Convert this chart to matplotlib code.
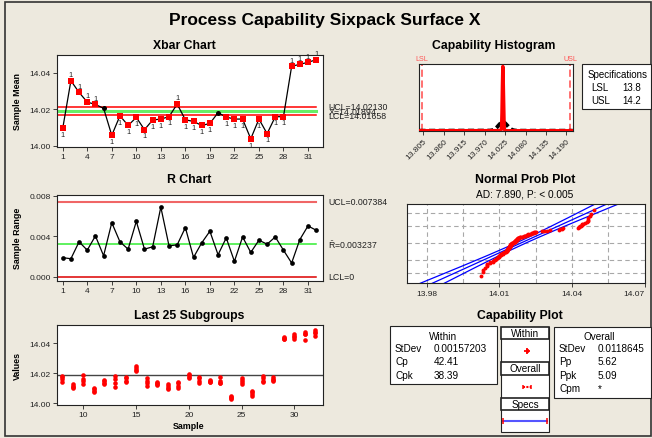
import numpy as np
import matplotlib
matplotlib.use('Agg')
import matplotlib.pyplot as plt
from matplotlib.patches import Rectangle
from matplotlib.transforms import blended_transform_factory
from statistics import NormalDist

W, H = 652, 439
plt.rcParams['font.family'] = ['Liberation Sans', 'DejaVu Sans']
plt.rcParams['mathtext.default'] = 'regular'

# ---------------- data ----------------
samples = list(range(1, 33))
xbar = [14.0095, 14.0356, 14.0292, 14.0239, 14.0226, 14.0205, 14.0057, 14.0164,
        14.0111, 14.0155, 14.0088, 14.0141, 14.0146, 14.0159, 14.0228, 14.0142,
        14.0133, 14.0111, 14.0122, 14.0181, 14.0157, 14.0146, 14.0146, 14.0038,
        14.0146, 14.0066, 14.0159, 14.0159, 14.0435, 14.0446, 14.0457, 14.0471]
ranges = [0.00189, 0.00179, 0.00345, 0.00263, 0.00403, 0.00208, 0.00533, 0.00345,
          0.00273, 0.00546, 0.00273, 0.00296, 0.00686, 0.00306, 0.00315, 0.00485,
          0.00192, 0.00335, 0.00449, 0.00218, 0.00384, 0.00153, 0.00393, 0.00241,
          0.00361, 0.00322, 0.00393, 0.00263, 0.00137, 0.00367, 0.00501, 0.00459]
subgroup_values = [
    [14.0106, 14.0098, 14.0090, 14.0087], [14.0365, 14.0358, 14.0352, 14.0347],
    [14.0310, 14.0297, 14.0286, 14.0276], [14.0252, 14.0243, 14.0235, 14.0226],
    [14.0248, 14.0230, 14.0218, 14.0208], [14.0216, 14.0208, 14.0201, 14.0195],
    [14.0085, 14.0062, 14.0050, 14.0032], [14.0178, 14.0172, 14.0163, 14.0143],
    [14.0125, 14.0115, 14.0105, 14.0098], [14.0185, 14.0160, 14.0145, 14.0130],
    [14.0102, 14.0092, 14.0083, 14.0075], [14.0156, 14.0148, 14.0135, 14.0126],
    [14.0178, 14.0160, 14.0137, 14.0109], [14.0175, 14.0165, 14.0150, 14.0144],
    [14.0245, 14.0235, 14.0220, 14.0214], [14.0165, 14.0150, 14.0135, 14.0117],
    [14.0142, 14.0137, 14.0130, 14.0123], [14.0130, 14.0115, 14.0104, 14.0096],
    [14.0143, 14.0132, 14.0115, 14.0098], [14.0192, 14.0185, 14.0177, 14.0170],
    [14.0175, 14.0165, 14.0150, 14.0137], [14.0153, 14.0150, 14.0143, 14.0138],
    [14.0172, 14.0145, 14.0135, 14.0133], [14.0050, 14.0042, 14.0033, 14.0026],
    [14.0165, 14.0152, 14.0138, 14.0129], [14.0080, 14.0075, 14.0060, 14.0048],
    [14.0180, 14.0168, 14.0147, 14.0141], [14.0172, 14.0163, 14.0155, 14.0146],
    [14.0442, 14.0438, 14.0432, 14.0428], [14.0465, 14.0452, 14.0440, 14.0428],
    [14.0475, 14.0465, 14.0463, 14.0425], [14.0492, 14.0478, 14.0468, 14.0446],
]
UCL_X, CL_X, LCL_X = 14.02130, 14.01894, 14.01658
UCL_R, CL_R, LCL_R = 0.007384, 0.003237, 0.0
LSL, USL = 13.8, 14.2
sd_within, sd_overall = 0.00157203, 0.0118645
hist_ticks = [13.805, 13.860, 13.915, 13.970, 14.025, 14.080, 14.135, 14.190]
prob_ticks = [13.98, 14.01, 14.04, 14.07]
prob_grid_pct = [0.01, 0.10, 0.50, 0.90, 0.99]
within_rows = [('StDev', '0.00157203'), ('Cp', '42.41'), ('Cpk', '38.39')]
overall_rows = [('StDev', '0.0118645'), ('Pp', '5.62'), ('Ppk', '5.09'), ('Cpm', '*')]
spec_rows = [('LSL', '13.8'), ('USL', '14.2')]

BG = '#EDE9DE'
fig = plt.figure(figsize=(W / 100, H / 100), dpi=100, facecolor=BG)

def ax_px(l, t, r, b, **kw):
    return fig.add_axes([l / W, 1 - b / H, (r - l) / W, (b - t) / H], **kw)

def txt(x, y, s, **kw):
    kw.setdefault('va', 'center')
    return fig.text(x / W, 1 - y / H, s, **kw)

# overlay for boxes / frame
ov = ax_px(0, 0, W, H)
ov.set_xlim(0, W); ov.set_ylim(H, 0); ov.axis('off')
ov.add_patch(Rectangle((4.5, 3), 646, 434, fill=False, ec='#333333', lw=1.2))

def style(ax, fs=6):
    ax.tick_params(labelsize=fs, length=3, width=0.6, pad=1.5, colors='#222222')
    for s in ax.spines.values():
        s.set_linewidth(0.8)
        s.set_color('#222222')

# ---------------- Xbar chart ----------------
ax1 = ax_px(57, 56, 322.7, 148)
style(ax1)
ax1.set_xlim(0.3, 32.8)
ax1.set_ylim(13.9993, 14.0497)
ax1.plot([0.3, 32], [UCL_X] * 2, color='#FF0000', lw=1.1, zorder=1)
ax1.plot([0.3, 32], [LCL_X] * 2, color='#FF0000', lw=1.1, zorder=1)
ax1.plot([0.3, 32], [CL_X] * 2, color='#66EE66', lw=2.2, zorder=1)
ax1.plot(samples, xbar, color='black', lw=0.9, zorder=2)
xb = np.array(xbar); sm = np.array(samples)
out = (xb > UCL_X) | (xb < LCL_X)
ax1.scatter(sm[~out], xb[~out], marker='o', s=13, color='black', zorder=3, lw=0)
ax1.scatter(sm[out], xb[out], marker='s', s=13, color='#FF0000', zorder=3, lw=0)
for x, y in zip(sm[out], xb[out]):
    off = 4.5 if y > UCL_X else -4.5
    ax1.annotate('1', (x, y), xytext=(0, off), textcoords='offset points',
                 ha='center', va='center', fontsize=5.3, color='#222222')
ax1.set_xticks(samples[::3])
ax1.set_yticks([14.00, 14.02, 14.04])
ax1.set_yticklabels(['%.2f' % v for v in [14.00, 14.02, 14.04]])
tr1 = blended_transform_factory(ax1.transAxes, ax1.transData)
ax1.text(1.02, UCL_X, 'UCL=14.02130', transform=tr1, fontsize=6.3, va='center', color='#222222')
ax1.text(1.02, CL_X, r'$\bar{X}$=14.01894', transform=tr1, fontsize=6.3, va='center', color='#222222')
ax1.text(1.02, LCL_X, 'LCL=14.01658', transform=tr1, fontsize=6.3, va='center', color='#222222')

# ---------------- R chart ----------------
ax2 = ax_px(57, 195.5, 322.7, 282)
style(ax2)
ax2.set_xlim(0.3, 32.8)
ax2.set_ylim(-0.0004, 0.0081)
ax2.plot([0.3, 32], [UCL_R] * 2, color='#F06666', lw=1.5, zorder=1)
ax2.plot([0.3, 32], [CL_R] * 2, color='#33EE33', lw=1.1, zorder=1)
ax2.plot([0.3, 32], [LCL_R] * 2, color='#DD0000', lw=1.1, zorder=1)
ax2.plot(samples, ranges, color='black', lw=0.9, marker='o', ms=3.4, mec='none', zorder=2)
ax2.set_xticks(samples[::3])
ax2.set_yticks([0.0, 0.004, 0.008])
ax2.set_yticklabels(['0.000', '0.004', '0.008'])
tr2 = blended_transform_factory(ax2.transAxes, ax2.transData)
ax2.text(1.02, UCL_R, 'UCL=0.007384', transform=tr2, fontsize=6.3, va='center', color='#222222')
ax2.text(1.02, CL_R, r'$\bar{R}$=0.003237', transform=tr2, fontsize=6.3, va='center', color='#222222')
ax2.text(1.02, LCL_R, 'LCL=0', transform=tr2, fontsize=6.3, va='center', color='#222222')

# ---------------- Last 25 subgroups ----------------
ax3 = ax_px(57, 326, 322.7, 406)
style(ax3)
ax3.set_xlim(7.5, 32.7)
ax3.set_ylim(13.9987, 14.0523)
ax3.axhline(CL_X, color='#444444', lw=1.0, zorder=1)
for s, vals in zip(samples[7:], subgroup_values[7:]):
    ax3.plot([s] * len(vals), vals, 'o', color='#FF0000', ms=3.3, mec='none', zorder=2)
ax3.set_xticks([10, 15, 20, 25, 30])
ax3.set_yticks([14.00, 14.02, 14.04])
ax3.set_yticklabels(['%.2f' % v for v in [14.00, 14.02, 14.04]])

# ---------------- Capability histogram ----------------
ax4 = ax_px(419.3, 65.3, 572.7, 131.7)
style(ax4)
ax4.set_xlim(13.7937, 14.2072)
ax4.set_ylim(0, 262)
ax4.set_yticks([])
xs = np.linspace(13.7937, 14.2072, 6000)
nd_w = NormalDist(CL_X, sd_within)
nd_o = NormalDist(CL_X, sd_overall)
ax4.plot(xs, [nd_o.pdf(v) for v in xs], color='black', lw=2.8, ls=(0, (1.6, 0.9)), zorder=2)
ax4.plot(xs, [nd_w.pdf(v) for v in xs], color='#FF0000', lw=2.4, zorder=3)
for v, lab in [(LSL, 'LSL'), (USL, 'USL')]:
    ax4.axvline(v, color='#FF6666', lw=1.3, ls=(0, (4, 2)), zorder=1)
    ax4.text(v, 1.09, lab, transform=blended_transform_factory(ax4.transData, ax4.transAxes),
             ha='center', va='center', fontsize=5.2, color='#FF5555')
ax4.set_xticks(hist_ticks)
ax4.set_xticklabels(['%.3f' % v for v in hist_ticks], rotation=45, ha='right',
                    rotation_mode='anchor')

# ---------------- Normal prob plot ----------------
ax5 = ax_px(407.3, 205, 645.3, 284.3)
style(ax5)
allv = np.sort(np.concatenate([np.array(v) for v in subgroup_values]))
n = len(allv)
std = NormalDist()
zq = np.array([std.inv_cdf((i - 0.3) / (n + 0.4)) for i in range(1, n + 1)])
ax5.set_xlim(13.972, 14.0703)
ax5.set_ylim(-3.09, 2.99)
for k in range(7):
    ax5.axvline(13.98 + 0.015 * k, color='#A8A8A8', lw=0.8, ls=(0, (4, 3)), zorder=0)
for p in prob_grid_pct:
    ax5.axhline(std.inv_cdf(p), color='#A8A8A8', lw=0.8, ls=(0, (4, 3)), zorder=0)
zz = np.linspace(-3.3, 3.2, 200)
xfit = CL_X + zz * sd_overall
half = 1.96 * sd_overall * np.sqrt(1 / n + zz ** 2 / (2 * n))
for xx in (xfit, xfit - half, xfit + half):
    ax5.plot(xx, zz, color='#0000FF', lw=0.9, zorder=2)
ax5.plot(allv, zq, 'o', color='#FF0000', ms=2.8, mec='none', zorder=3)
ax5.set_yticks([])
ax5.set_xticks(prob_ticks)
ax5.set_xticklabels(['%.2f' % v for v in prob_ticks])
ax5.get_xticklabels()[-1].set_ha('right')

# ---------------- Titles and labels ----------------
txt(325, 20, 'Process Capability Sixpack Surface X', fontsize=12.5, weight='bold', ha='center')
txt(184, 45.7, 'Xbar Chart', fontsize=8.8, weight='bold', ha='center')
txt(189, 180, 'R Chart', fontsize=8.8, weight='bold', ha='center')
txt(189, 316, 'Last 25 Subgroups', fontsize=8.8, weight='bold', ha='center')
txt(494, 46, 'Capability Histogram', fontsize=8.8, weight='bold', ha='center')
txt(525, 180, 'Normal Prob Plot', fontsize=8.8, weight='bold', ha='center')
txt(525, 194.5, 'AD: 7.890, P: < 0.005', fontsize=7.3, ha='center')
txt(520, 316, 'Capability Plot', fontsize=8.8, weight='bold', ha='center')
txt(17, 102, 'Sample Mean', fontsize=6.4, weight='bold', ha='center', rotation=90)
txt(17, 238, 'Sample Range', fontsize=6.4, weight='bold', ha='center', rotation=90)
txt(17, 366, 'Values', fontsize=6.4, weight='bold', ha='center', rotation=90)
txt(189, 427, 'Sample', fontsize=6.4, weight='bold', ha='center')

# ---------------- Specifications box ----------------
ov.add_patch(Rectangle((581.7, 65), 69.5, 45, fc='white', ec='#222222', lw=0.8))
txt(587.3, 74.7, 'Specifications', fontsize=7)
for i, (a, b) in enumerate(spec_rows):
    txt(591.7, 87.7 + 13 * i, a, fontsize=7)
    txt(622.7, 87.7 + 13 * i, b, fontsize=7)

# ---------------- Capability plot tables ----------------
ov.add_patch(Rectangle((390, 326.7), 106.7, 58.3, fc='white', ec='#222222', lw=0.8))
txt(443, 336.7, 'Within', fontsize=7.2, ha='center')
for i, (a, b) in enumerate(within_rows):
    txt(395, 349 + 13.3 * i, a, fontsize=7.2)
    txt(434, 349 + 13.3 * i, b, fontsize=7.2)

ov.add_patch(Rectangle((554.3, 327.7), 97, 71.6, fc='white', ec='#222222', lw=0.8))
txt(599, 336.7, 'Overall', fontsize=7.2, ha='center')
for i, (a, b) in enumerate(overall_rows):
    txt(559, 349 + 13.3 * i, a, fontsize=7.2)
    txt(598, 349 + 13.3 * i, b, fontsize=7.2)

ov.add_patch(Rectangle((500.7, 328.3), 48.6, 105, fc='white', ec='#222222', lw=0.8))
for (top, h, lab) in [(328.3, 11.7, 'Within'), (363.3, 12.4, 'Overall'), (399.3, 11.7, 'Specs')]:
    ov.add_patch(Rectangle((500.7, top), 48.6, h, fc='white', ec='#222222', lw=1.2))
    txt(525, top + h / 2, lab, fontsize=7.2, ha='center')

intervals = [
    ((500.7, 340, 549.3, 363.3), CL_X - 3 * sd_within, CL_X + 3 * sd_within, '#FF0000', '-', 3.5),
    ((500.7, 375.7, 549.3, 399.3), CL_X - 3 * sd_overall, CL_X + 3 * sd_overall, '#FF0000', (0, (1, 0.6)), 3.5),
    ((500.7, 411, 549.3, 433.3), LSL, USL, '#5555FF', '-', 4.5),
]
for box, lo, hi, col, ls, ms in intervals:
    axm = ax_px(*box)
    axm.set_xlim(13.779, 14.221); axm.set_ylim(0, 1); axm.axis('off')
    axm.plot([lo, hi], [0.5, 0.5], color=col, lw=1.5, ls=ls)
    axm.plot([lo, hi], [0.5, 0.5], ls='none', marker='|', ms=ms, mew=1.1, color='#FF0000')
    if hi - lo < 0.02:
        axm.plot([(lo + hi) / 2], [0.5], marker='+', ms=4, mew=1.3, color='#FF0000')

fig.savefig('out.png', dpi=100, facecolor=BG)
